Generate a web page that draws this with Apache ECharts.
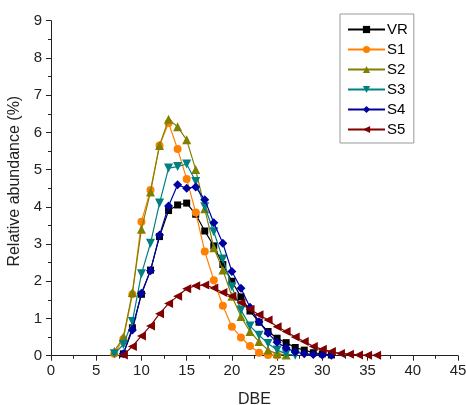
<!DOCTYPE html>
<html><head><meta charset="utf-8">
<script src="https://cdn.jsdelivr.net/npm/echarts@6/dist/echarts.min.js"></script>
<style>html,body{margin:0;padding:0;background:#fff}#c{width:466px;height:405px}</style>
</head><body><div id="c"></div>
<script>
const seriesNames = ['VR','S1','S2','S3','S4','S5'];
const xTicks = [0,5,10,15,20,25,30,35,40,45];
const yTicks = [0,1,2,3,4,5,6,7,8,9];
const dbeVR = [8,9,10,11,12,13,14,15,16,17,18,19,20,21,22,23,24,25,26,27,28,29,30,31];
const valVR = [0.05,0.75,1.65,2.3,3.2,3.9,4.05,4.1,3.8,3.35,2.95,2.45,2.0,1.58,1.2,0.9,0.65,0.47,0.35,0.22,0.15,0.08,0.05,0.02];
const dbeS1 = [7,8,9,10,11,12,13,14,15,16,17,18,19,20,21,22,23,24,25];
const valS1 = [0.05,0.45,1.65,3.6,4.45,5.65,6.25,5.55,4.75,3.85,2.8,2.03,1.34,0.78,0.49,0.26,0.08,0.02,0.01];
const dbeS2 = [7,8,9,10,11,12,13,14,15,16,17,18,19,20,21,22,23,24,25,26];
const valS2 = [0.12,0.5,1.7,3.4,4.4,5.65,6.35,6.15,5.8,5.0,3.95,2.9,2.3,1.6,1.05,0.65,0.38,0.15,0.05,0.02];
const dbeS3 = [7,8,9,10,11,12,13,14,15,16,17,18,19,20,21,22,23,24,25,26,27];
const valS3 = [0.05,0.3,0.92,2.2,3.02,4.1,5.04,5.08,5.15,4.68,4.0,3.33,2.6,1.85,1.23,0.8,0.55,0.33,0.15,0.05,0.01];
const dbeS4 = [8,9,10,11,12,13,14,15,16,17,18,19,20,21,22,23,24,25,26,27,28,29,30,31];
const valS4 = [0.05,0.69,1.68,2.28,3.24,4.02,4.59,4.5,4.53,4.19,3.57,3.02,2.26,1.81,1.3,0.91,0.6,0.36,0.21,0.1,0.05,0.03,0.02,0.01];
const dbeS5 = [8,9,10,11,12,13,14,15,16,17,18,19,20,21,22,23,24,25,26,27,28,29,30,31,32,33,34,35,36];
const valS5 = [0.02,0.25,0.53,0.8,1.13,1.4,1.6,1.8,1.88,1.9,1.82,1.7,1.6,1.42,1.25,1.1,0.96,0.78,0.65,0.5,0.38,0.25,0.17,0.11,0.06,0.04,0.02,0.01,0.01];

const dbes = [dbeVR,dbeS1,dbeS2,dbeS3,dbeS4,dbeS5];
const vals = [valVR,valS1,valS2,valS3,valS4,valS5];
const colors = ['#000000','#FF8000','#808000','#008080','#0000A0','#800000'];
const symbols = ['rect','circle','triangle','triangle','diamond','triangle'];
const rotates = [0,0,0,180,0,90];
const sizes = [7,8,9,9,9,9];

const chart = echarts.init(document.getElementById('c'), null, {renderer:'canvas'});
const font = 'Liberation Sans, Arial, sans-serif';
chart.setOption({
  animation:false,
  color: colors,
  grid:{left:51, right:8, top:20.7, bottom:49.3, containLabel:false, outerBoundsMode:'none'},
  legend:{
    orient:'vertical', left:340, top:14, width:74,
    data: seriesNames,
    itemWidth:37, itemHeight:9, itemGap:5,
    padding:[8,6,6,7],
    borderColor:'#999', borderWidth:1,
    textStyle:{fontFamily:font, fontSize:15, color:'#000', padding:[0,0,0,-3]}
  },
  xAxis:{
    type:'value', min:0, max:45, interval:5,
    name:'DBE', nameLocation:'middle', nameGap:36,
    nameTextStyle:{fontFamily:font, fontSize:16, color:'#222'},
    axisLine:{lineStyle:{color:'#222', width:1}},
    axisTick:{show:true, inside:false, length:5, lineStyle:{color:'#222'}},
    minorTick:{show:true, splitNumber:2, length:3, lineStyle:{color:'#222'}},
    splitLine:{show:false},
    axisLabel:{fontFamily:font, fontSize:15, color:'#222', margin:8,
      formatter:v=> xTicks.includes(v)? String(v):''}
  },
  yAxis:{
    type:'value', min:0, max:9, interval:1,
    name:'Relative abundance (%)', nameLocation:'middle', nameGap:26,
    nameTextStyle:{fontFamily:font, fontSize:16, color:'#222', padding:[0,0,0,14]},
    axisLine:{show:true, lineStyle:{color:'#222', width:1}},
    axisTick:{show:true, inside:false, length:5, lineStyle:{color:'#222'}},
    minorTick:{show:true, splitNumber:2, length:3, lineStyle:{color:'#222'}},
    splitLine:{show:false},
    axisLabel:{fontFamily:font, fontSize:15, color:'#222', margin:9,
      formatter:v=> yTicks.includes(v)? String(v):''}
  },
  series: seriesNames.map((n,i)=>({
    name:n, type:'line',
    data: dbes[i].map((d,j)=>[d, vals[i][j]]),
    symbol: symbols[i], symbolRotate: rotates[i], symbolSize: sizes[i],
    showAllSymbol:true,
    lineStyle:{width:1.2, color:colors[i]},
    itemStyle:{color:colors[i]},
    z: 2+i
  }))
});
</script></body></html>
